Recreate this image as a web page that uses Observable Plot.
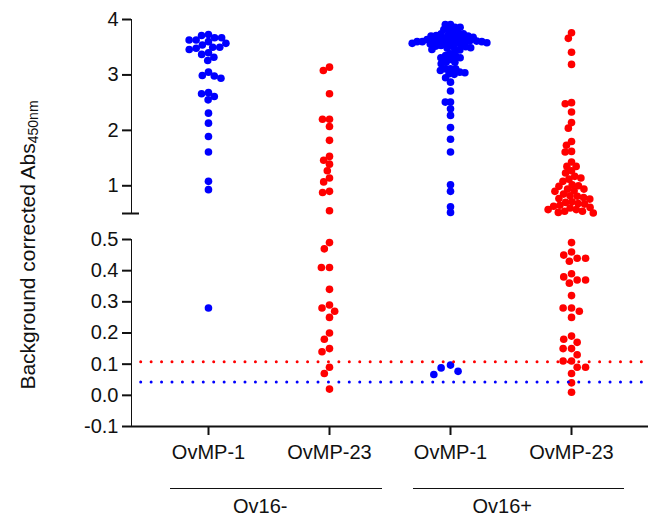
<!DOCTYPE html>
<html><head><meta charset="utf-8">
<script src="https://cdn.jsdelivr.net/npm/d3@7"></script>
<script src="https://cdn.jsdelivr.net/npm/@observablehq/plot@0.6"></script>
<style>
body{margin:0;background:#fff;}
#chart{position:relative;width:654px;height:518px;overflow:hidden;background:#fff;font-family:"Liberation Sans",Arial,sans-serif;color:#111;}
#chart svg{display:block;overflow:visible}
#chart svg [aria-label^="y-axis"] path,#chart svg [aria-label^="x-axis"] path,
#chart svg [aria-label^="y-axis"] line,#chart svg [aria-label^="x-axis"] line,
#chart svg .tick line,#chart svg .domain{stroke-width:2px;stroke:#111}
.ytitle{position:absolute;white-space:nowrap;font-size:21px;transform:translate(-50%,-50%) rotate(-90deg);}
.ytitle sub{font-size:14px;vertical-align:-3px;line-height:0}
.grp{position:absolute;text-align:center;font-size:20px;}
.grpline{position:absolute;height:0;border-top:1.6px solid #111;}
</style></head><body><div id="chart"></div><script>
// ---- data ----
const groups = ["Ov16-", "Ov16+"];
const antigens = ["OvMP-1", "OvMP-23"];
const antigenColors = ["#0000ff", "#ff0000"];
const cutoffs = [0.043, 0.108];            // OvMP-1 (blue), OvMP-23 (red)
const yTitle = "Background corrected Abs";
const yTitleSub = "450nm";
const yBreak = 0.5;
const upperDomain = [0.5, 4];
const lowerDomain = [-0.1, 0.5];
const upperTicks = [1, 2, 3, 4];
const lowerTicks = [-0.1, 0.0, 0.1, 0.2, 0.3, 0.4, 0.5];

const ovmp1Neg = [3.73, 3.67, 3.67, 3.71, 3.63, 3.60, 3.57, 3.63, 3.54, 3.50, 3.46, 3.48, 3.50, 3.40, 3.32, 3.26, 3.37,
  2.99, 2.94, 2.98, 3.05, 2.68, 2.61, 2.55, 2.66, 2.31, 2.13, 1.89, 1.61, 1.08, 0.93, 0.28];
const ovmp23Neg = [3.14, 3.08, 2.66, 2.20, 2.20, 2.07, 1.82, 1.53, 1.46, 1.39, 1.27, 1.14, 1.07, 0.88, 0.90, 0.55,
  0.49, 0.47, 0.41, 0.41, 0.34, 0.28, 0.29, 0.27, 0.25, 0.20, 0.18, 0.15, 0.14, 0.09, 0.07, 0.02];
const ovmp1Pos = [3.86, 3.91, 3.91, 3.86, 3.82, 3.75, 3.76, 3.82,
  3.74, 3.71, 3.70, 3.67, 3.66, 3.63, 3.61, 3.60, 3.57, 3.58, 3.60, 3.62, 3.64, 3.66, 3.68, 3.70, 3.72, 3.74,
  3.62, 3.60, 3.57, 3.55, 3.53, 3.51, 3.48, 3.46, 3.45, 3.47, 3.49, 3.52, 3.54, 3.56, 3.58, 3.61, 3.63,
  3.38, 3.35, 3.31, 3.23, 3.20, 3.23, 3.28, 3.31, 3.35,
  3.11, 3.11, 3.05, 3.01, 3.02, 3.04, 3.08, 3.11,
  2.95, 2.87, 2.71, 2.51, 2.51, 2.39, 2.27, 2.05, 1.84, 1.61, 1.02, 0.90, 0.62, 0.52,
  0.088, 0.067, 0.077, 0.097];
const ovmp23Pos = [3.76, 3.66, 3.41, 3.19, 2.48, 2.50, 2.33, 2.14, 2.04, 1.80, 1.73, 1.61, 1.62,
  1.35, 1.27, 1.23, 1.35, 1.43, 1.17, 1.12, 1.02, 0.99, 1.00, 1.08, 1.14,
  0.94, 0.91, 0.85, 0.81, 0.76, 0.77, 0.79, 0.82, 0.90, 0.94, 0.70, 0.71,
  0.67, 0.65, 0.61, 0.57, 0.54, 0.51, 0.52, 0.54, 0.57, 0.60, 0.63, 0.68,
  0.49, 0.46, 0.44, 0.43, 0.44, 0.45, 0.38, 0.37, 0.36, 0.37, 0.39, 0.32, 0.28, 0.27, 0.25, 0.28,
  0.18, 0.19, 0.15, 0.15, 0.17, 0.13, 0.11, 0.11, 0.09, 0.09, 0.07, 0.04, 0.01];
const seriesValues = [[ovmp1Neg, ovmp23Neg], [ovmp1Pos, ovmp23Pos]];

// ---- layout ----
const W = 654, ML = 131, MR = 6;
const XPAD = 0.636;
const R = 3.8;
const PACK_UPPER = [-0.6, -0.6, -2.4, -1.2];   // swarm packing per column (overlap in dense columns)
const PACK_LOWER = [0.5, 0.5, 2.2, 0.8];
const font = {fontSize: "20px", fontFamily: "Liberation Sans, Arial, sans-serif", color: "#111", background: "transparent", overflow: "visible"};

const columns = [];
groups.forEach((g, gi) => antigens.forEach((a, ai) => columns.push({
  key: g + " " + a, group: g, antigen: a, color: antigenColors[ai], values: seriesValues[gi][ai]
})));
const keys = columns.map(c => c.key);
const xOpts = {type: "point", domain: keys, padding: XPAD};
const xs = Plot.scale({x: {...xOpts, range: [ML, W - MR]}});
const mid = (ML + W - MR) / 2;

function swarm(filter, pack) {
  return columns.map((c, i) => Plot.dot(
    c.values.filter(filter).sort((a, b) => b - a).map(v => ({value: v})),
    Plot.dodgeX({anchor: "middle", padding: pack[i], r: R},
      {y: "value", r: R, fill: c.color, dx: xs.apply(c.key) - mid})
  ));
}

const upper = Plot.plot({
  width: W, height: 225, marginLeft: ML, marginRight: MR, marginTop: 19, marginBottom: 12,
  style: font,
  y: {domain: upperDomain, ticks: upperTicks, tickFormat: d => String(d), tickSize: 9, tickPadding: 4, line: true, label: null},
  marks: [
    ...swarm(v => v > yBreak, PACK_UPPER),
    Plot.ruleY([yBreak], {stroke: "#111", strokeWidth: 2, insetLeft: -9, insetRight: (W - MR - ML) - 8})
  ]
});

const lower = Plot.plot({
  width: W, height: 250, marginLeft: ML, marginRight: MR, marginTop: 14, marginBottom: 49,
  style: font,
  x: {...xOpts, tickSize: 9, tickPadding: 9, tickFormat: k => columns.find(c => c.key === k).antigen, label: null},
  y: {domain: lowerDomain, ticks: lowerTicks, tickFormat: d => d.toFixed(1), tickSize: 9, tickPadding: 4, line: true, label: null},
  marks: [
    ...swarm(v => v <= yBreak, PACK_LOWER),
    Plot.ruleY([cutoffs[1]], {stroke: antigenColors[1], strokeWidth: 3, strokeDasharray: "0 10.43", strokeLinecap: "round", insetLeft: 9.7}),
    Plot.ruleY([cutoffs[0]], {stroke: antigenColors[0], strokeWidth: 3, strokeDasharray: "0 10.43", strokeLinecap: "round", insetLeft: 9.7}),
    Plot.ruleY([lowerDomain[0]], {stroke: "#111", strokeWidth: 2})
  ]
});

const chart = document.getElementById("chart");
chart.appendChild(upper);
chart.appendChild(lower);

const t = document.createElement("div");
t.className = "ytitle";
t.style.left = "28px"; t.style.top = "245px";
t.append(yTitle);
const sub = document.createElement("sub"); sub.textContent = yTitleSub; t.appendChild(sub);
chart.appendChild(t);

groups.forEach(g => {
  const cs = columns.filter(c => c.group === g);
  const x0 = xs.apply(cs[0].key) - 37.5, x1 = xs.apply(cs[cs.length - 1].key) + 53;
  const line = document.createElement("div");
  line.className = "grpline";
  line.style.left = x0 + "px"; line.style.width = (x1 - x0) + "px"; line.style.top = "488px";
  chart.appendChild(line);
  const lab = document.createElement("div");
  lab.className = "grp";
  lab.textContent = g;
  lab.style.left = ((x0 + x1) / 2 - 16 - 60) + "px"; lab.style.width = "120px"; lab.style.top = "495px";
  chart.appendChild(lab);
});
</script></body></html>
